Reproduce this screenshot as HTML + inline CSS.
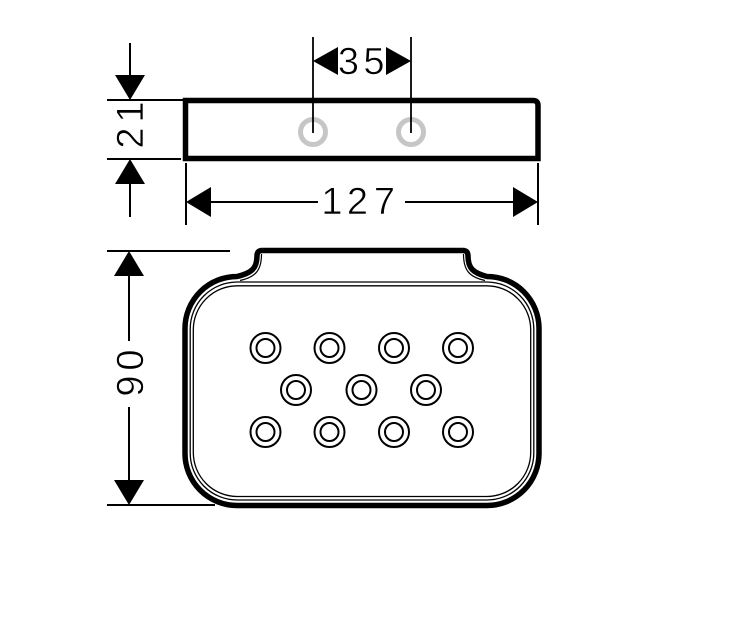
<!DOCTYPE html>
<html>
<head>
<meta charset="utf-8">
<style>
html,body{margin:0;padding:0;background:#fff;}
svg{display:block;}
text{font-family:"Liberation Sans",sans-serif;font-size:38px;fill:#000;stroke:#fff;stroke-width:0.6px;}
</style>
</head>
<body>
<svg width="750" height="621" viewBox="0 0 750 621" xmlns="http://www.w3.org/2000/svg">
<rect x="0" y="0" width="750" height="621" fill="#fff"/>

<!-- ===== TOP (side) VIEW ===== -->
<g stroke="#000" stroke-width="2" fill="none">
  <line x1="130" y1="43" x2="130" y2="76"/>
  <line x1="107" y1="100" x2="183" y2="100"/>
  <line x1="107" y1="159" x2="181" y2="159"/>
  <line x1="130" y1="183" x2="130" y2="217"/>
  <line x1="186" y1="163" x2="186" y2="225"/>
  <line x1="538" y1="163" x2="538" y2="225"/>
  <line x1="209" y1="202" x2="318" y2="202"/>
  <line x1="405" y1="202" x2="515" y2="202"/>
</g>
<polygon points="115,75 145,75 130,100" fill="#000"/>
<polygon points="130,159 115,184 145,184" fill="#000"/>
<polygon points="186,202 211,187 211,217" fill="#000"/>
<polygon points="538,202 513,187 513,217" fill="#000"/>

<text x="0" y="0" text-anchor="middle" transform="translate(143,138) rotate(-90)">2</text>
<text x="0" y="0" text-anchor="middle" transform="translate(143,112) rotate(-90)">1</text>

<text x="332" y="214" text-anchor="middle">1</text>
<text x="357.5" y="214" text-anchor="middle">2</text>
<text x="384.5" y="214" text-anchor="middle">7</text>

<path d="M185.5 100.5 H533 Q538 100.5 538 105.5 V158.5 H185.5 Z" fill="none" stroke="#000" stroke-width="5.5" stroke-linejoin="miter"/>

<circle cx="313" cy="132" r="12.5" fill="none" stroke="#c6c6c6" stroke-width="5"/>
<circle cx="411" cy="132" r="12.5" fill="none" stroke="#c6c6c6" stroke-width="5"/>

<g stroke="#000" stroke-width="1.8">
  <line x1="313" y1="37" x2="313" y2="133"/>
  <line x1="411" y1="37" x2="411" y2="133"/>
</g>
<polygon points="313,61 338,47 338,75" fill="#000"/>
<polygon points="411,61 386,47 386,75" fill="#000"/>
<text x="348.5" y="74" text-anchor="middle">3</text>
<text x="374" y="74" text-anchor="middle">5</text>

<!-- ===== BOTTOM (plan) VIEW ===== -->
<g stroke="#000" stroke-width="2" fill="none">
  <line x1="107" y1="251" x2="230" y2="251"/>
  <line x1="107" y1="505" x2="215" y2="505"/>
  <line x1="129" y1="275" x2="129" y2="341"/>
  <line x1="129" y1="407" x2="129" y2="481"/>
</g>
<polygon points="129,251 114,276 144,276" fill="#000"/>
<polygon points="129,505 114,480 144,480" fill="#000"/>
<text x="0" y="0" text-anchor="middle" transform="translate(143,386) rotate(-90)">9</text>
<text x="0" y="0" text-anchor="middle" transform="translate(143,360) rotate(-90)">0</text>

<path d="M257 256 C257 268 252 273 237 276.5 A52 52 0 0 0 185 328 L185 453 A52 52 0 0 0 237 505.5 L487 505.5 A52 52 0 0 0 539 453 L539 328 A52 52 0 0 0 487 276.5 C473 273 468 268 468 256 Q468 250.5 463 250.5 L262 250.5 Q257 250.5 257 256 Z"
 fill="none" stroke="#000" stroke-width="5.5"/>
<path d="M261.5 254 C261.5 270 256 277 240 280.5" fill="none" stroke="#000" stroke-width="1.2"/>
<path d="M463.5 254 C463.5 270 469 277 485 280.5" fill="none" stroke="#000" stroke-width="1.2"/>
<rect x="190.2" y="282" width="343.6" height="218" rx="47" ry="47" fill="none" stroke="#000" stroke-width="1.3"/>
<rect x="193.3" y="285.8" width="337.4" height="210.7" rx="44" ry="44" fill="none" stroke="#000" stroke-width="1.3"/>

<g fill="none" stroke="#000" stroke-width="2">
  <circle cx="265.5" cy="348" r="15"/><circle cx="265.5" cy="348" r="9"/>
  <circle cx="329.5" cy="348" r="15"/><circle cx="329.5" cy="348" r="9"/>
  <circle cx="394" cy="348" r="15"/><circle cx="394" cy="348" r="9"/>
  <circle cx="458" cy="348" r="15"/><circle cx="458" cy="348" r="9"/>

  <circle cx="296" cy="390" r="15"/><circle cx="296" cy="390" r="9"/>
  <circle cx="361.5" cy="390" r="15"/><circle cx="361.5" cy="390" r="9"/>
  <circle cx="426" cy="390" r="15"/><circle cx="426" cy="390" r="9"/>

  <circle cx="265.5" cy="432" r="15"/><circle cx="265.5" cy="432" r="9"/>
  <circle cx="329.5" cy="432" r="15"/><circle cx="329.5" cy="432" r="9"/>
  <circle cx="394" cy="432" r="15"/><circle cx="394" cy="432" r="9"/>
  <circle cx="458" cy="432" r="15"/><circle cx="458" cy="432" r="9"/>
</g>
</svg>
</body>
</html>
